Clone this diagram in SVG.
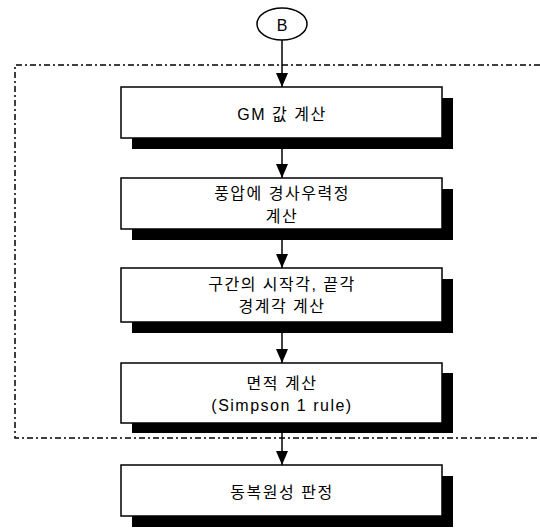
<svg xmlns="http://www.w3.org/2000/svg" width="540" height="528" viewBox="0 0 540 528">
<style>
.sh{fill:#000}
.bx{fill:#fff;stroke:#000;stroke-width:1.5}
.t{font-family:"Liberation Sans","Noto Sans CJK KR",sans-serif;font-size:16px;letter-spacing:1.5px;fill:#000;text-anchor:middle;dominant-baseline:central}
.c{stroke:#000;stroke-width:1.5;fill:none}
.dash{stroke:#000;stroke-width:1.5;fill:none;stroke-dasharray:6 3 2 3}
</style>
<defs>
<marker id="ah" markerUnits="userSpaceOnUse" markerWidth="14" markerHeight="12" refX="14" refY="6" orient="auto" viewBox="0 0 14 12">
<path d="M0,0 L14,6 L0,12 Z" fill="#000"/>
</marker>
</defs>
<path class="dash" d="M540,65 H15 V438 H540"/>
<g id="nodeB">
<ellipse cx="282" cy="24" rx="25" ry="16" fill="#fff" stroke="#000" stroke-width="1.5"/>
<text class="t" x="282" y="25" style="letter-spacing:0">B</text>
</g>
<g id="connectors">
<line class="c" x1="282" y1="40" x2="282" y2="87" marker-end="url(#ah)"/>
<line class="c" x1="282" y1="149" x2="282" y2="178" marker-end="url(#ah)"/>
<line class="c" x1="282" y1="240" x2="282" y2="268" marker-end="url(#ah)"/>
<line class="c" x1="282" y1="333" x2="282" y2="363" marker-end="url(#ah)"/>
<line class="c" x1="282" y1="433" x2="282" y2="465" marker-end="url(#ah)"/>
</g>
<g id="n1">
<rect class="sh" x="132" y="98" width="321" height="51"/>
<rect class="bx" x="121" y="87" width="321" height="51"/>
<text class="t" x="282" y="114">GM 값 계산</text>
</g>
<g id="n2">
<rect class="sh" x="132" y="189" width="321" height="51"/>
<rect class="bx" x="121" y="178" width="321" height="51"/>
<text class="t" x="282" y="193">풍압에 경사우력정</text>
<text class="t" x="282" y="216">계산</text>
</g>
<g id="n3">
<rect class="sh" x="132" y="279" width="321" height="54"/>
<rect class="bx" x="121" y="268" width="321" height="54"/>
<text class="t" x="282" y="284">구간의 시작각, 끝각</text>
<text class="t" x="282" y="306">경계각 계산</text>
</g>
<g id="n4">
<rect class="sh" x="132" y="373" width="321" height="60"/>
<rect class="bx" x="121" y="363" width="321" height="60"/>
<text class="t" x="282" y="383">면적 계산</text>
<text class="t" x="282" y="405">(Simpson 1 rule)</text>
</g>
<g id="n5">
<rect class="sh" x="132" y="476" width="321" height="51"/>
<rect class="bx" x="121" y="465" width="321" height="51"/>
<text class="t" x="282" y="492">동복원성 판정</text>
</g>
</svg>
